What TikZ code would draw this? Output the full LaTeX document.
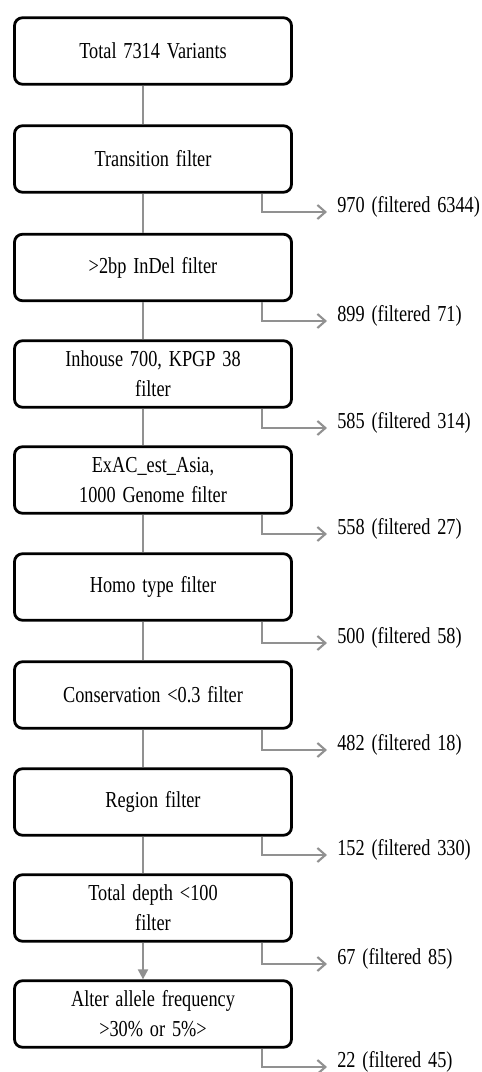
\documentclass[tikz,border=0pt]{standalone}
\usepackage{fontspec}
\setmainfont{Liberation Serif}[FakeStretch=0.8, WordSpace=1.5]
\usetikzlibrary{arrows.meta}
\definecolor{linegray}{RGB}{145,145,145}

\begin{document}
\begin{tikzpicture}[
  filterbox/.style={rectangle, rounded corners=0.16cm, draw=black, line width=1.6pt,
    minimum width=5.54cm, minimum height=1.33cm, align=center,
    font=\fontsize{13}{17}\selectfont},
  count/.style={anchor=west, inner sep=0pt, font=\fontsize{13}{17}\selectfont},
  link/.style={draw=linegray, line width=1.2pt},
  side/.style={link, -{Straight Barb[length=0.16cm,width=0.28cm]}}
]
\useasboundingbox (0,0) rectangle (9.64,-21.44);

\node[filterbox] (total) at (3.06,-1.02) {Total 7314 Variants};
\node[filterbox] (trans) at (3.06,-3.18) {Transition filter};
\node[filterbox] (indel) at (3.06,-5.35) {>2bp InDel filter};
\node[filterbox] (inhouse) at (3.06,-7.48) {Inhouse 700, KPGP 38\\filter};
\node[filterbox] (exac) at (3.06,-9.60) {ExAC\_est\_Asia,\\1000 Genome filter};
\node[filterbox] (homo) at (3.06,-11.74) {Homo type filter};
\node[filterbox] (cons) at (3.06,-13.90) {Conservation <0.3 filter};
\node[filterbox] (region) at (3.06,-16.04) {Region filter};
\node[filterbox] (depth) at (3.06,-18.16) {Total depth <100\\filter};
\node[filterbox] (allele) at (3.06,-20.28) {Alter allele frequency\\>30\% or 5\%>};

\node[count] (c2) at (6.74,-4.14) {970 (filtered 6344)};
\node[count] (c3) at (6.74,-6.32) {899 (filtered 71)};
\node[count] (c4) at (6.74,-8.46) {585 (filtered 314)};
\node[count] (c5) at (6.74,-10.58) {558 (filtered 27)};
\node[count] (c6) at (6.74,-12.76) {500 (filtered 58)};
\node[count] (c7) at (6.74,-14.90) {482 (filtered 18)};
\node[count] (c8) at (6.74,-17.00) {152 (filtered 330)};
\node[count] (c9) at (6.74,-19.18) {67 (filtered 85)};
\node[count] (c10) at (6.74,-21.24) {22 (filtered 45)};

% main flow
\draw[link] ([xshift=-0.2cm]total.south) -- ([xshift=-0.2cm]trans.north);
\draw[link] ([xshift=-0.2cm]trans.south) -- ([xshift=-0.2cm]indel.north);
\draw[link] ([xshift=-0.2cm]indel.south) -- ([xshift=-0.2cm]inhouse.north);
\draw[link] ([xshift=-0.2cm]inhouse.south) -- ([xshift=-0.2cm]exac.north);
\draw[link] ([xshift=-0.2cm]exac.south) -- ([xshift=-0.2cm]homo.north);
\draw[link] ([xshift=-0.2cm]homo.south) -- ([xshift=-0.2cm]cons.north);
\draw[link] ([xshift=-0.2cm]cons.south) -- ([xshift=-0.2cm]region.north);
\draw[link] ([xshift=-0.2cm]region.south) -- ([xshift=-0.2cm]depth.north);
\draw[link, -{Triangle[length=0.2cm,width=0.2cm]}] ([xshift=-0.2cm]depth.south) -- ([xshift=-0.2cm]allele.north);

% remaining counts
\draw[side] ([xshift=2.18cm]trans.south) |- ([shift={(-0.2,-0.1)}]c2.west);
\draw[side] ([xshift=2.18cm]indel.south) |- ([shift={(-0.2,-0.1)}]c3.west);
\draw[side] ([xshift=2.18cm]inhouse.south) |- ([shift={(-0.2,-0.1)}]c4.west);
\draw[side] ([xshift=2.18cm]exac.south) |- ([shift={(-0.2,-0.1)}]c5.west);
\draw[side] ([xshift=2.18cm]homo.south) |- ([shift={(-0.2,-0.1)}]c6.west);
\draw[side] ([xshift=2.18cm]cons.south) |- ([shift={(-0.2,-0.1)}]c7.west);
\draw[side] ([xshift=2.18cm]region.south) |- ([shift={(-0.2,-0.1)}]c8.west);
\draw[side] ([xshift=2.18cm]depth.south) |- ([shift={(-0.2,-0.1)}]c9.west);
\draw[side] ([xshift=2.18cm]allele.south) |- ([shift={(-0.2,-0.1)}]c10.west);
\end{tikzpicture}
\end{document}
